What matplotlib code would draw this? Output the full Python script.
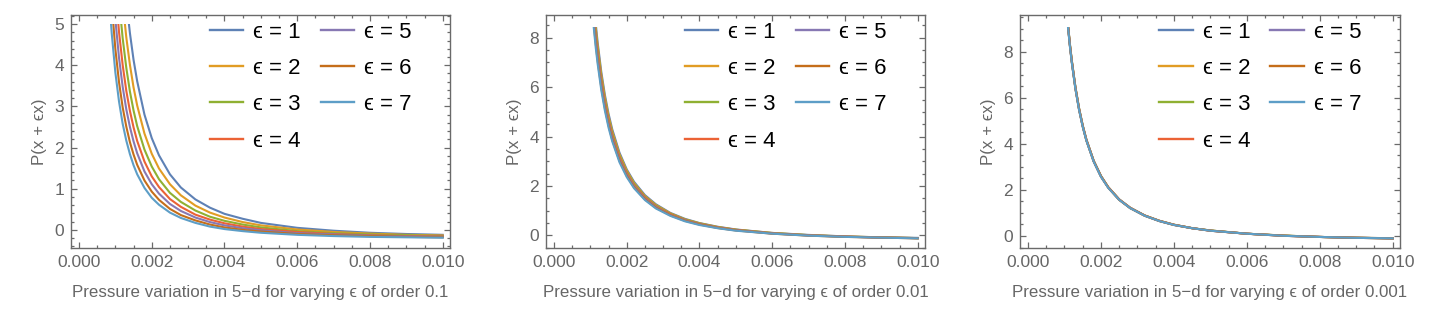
"""Pressure variation in 5-d for varying epsilon, three orders of magnitude."""

import matplotlib
matplotlib.use("Agg")
import matplotlib.pyplot as plt
from matplotlib.lines import Line2D
from matplotlib.patches import Rectangle
from matplotlib.ticker import FormatStrFormatter, MultipleLocator

plt.rcParams["font.family"] = ["Liberation Sans", "DejaVu Sans"]

# ---- data ------------------------------------------------------------------
EPS_LABELS = ["ϵ = 1", "ϵ = 2", "ϵ = 3", "ϵ = 4", "ϵ = 5", "ϵ = 6", "ϵ = 7"]
COLORS = ["#5E81B5", "#E19C24", "#8FB032", "#EB6235",
          "#8778B3", "#C56E1A", "#5D9EC7"]

# order 0.1
X1 = [0.00085, 0.0009, 0.001, 0.0011, 0.0012, 0.0013, 0.0014, 0.0015, 0.0016,
      0.0018, 0.002, 0.0022, 0.0025, 0.0028, 0.0032, 0.0036, 0.004, 0.0045,
      0.005, 0.006, 0.007, 0.008, 0.009, 0.010]
P1 = [
    [13.34, 11.87, 9.58, 7.88, 6.58, 5.58, 4.78, 4.13, 3.61, 2.80, 2.23, 1.81,
     1.35, 1.03, 0.74, 0.54, 0.39, 0.27, 0.17, 0.05, -0.02, -0.07, -0.10, -0.12],
    [11.25, 10.01, 8.07, 6.63, 5.54, 4.68, 4.01, 3.46, 3.02, 2.34, 1.85, 1.49,
     1.11, 0.84, 0.59, 0.42, 0.30, 0.19, 0.11, 0.01, -0.05, -0.09, -0.12, -0.135],
    [9.50, 8.45, 6.80, 5.59, 4.66, 3.94, 3.36, 2.90, 2.52, 1.95, 1.54, 1.23,
     0.90, 0.68, 0.47, 0.32, 0.22, 0.13, 0.06, -0.03, -0.08, -0.11, -0.13, -0.15],
    [8.21, 7.30, 5.87, 4.81, 4.01, 3.38, 2.89, 2.49, 2.16, 1.66, 1.30, 1.04,
     0.75, 0.56, 0.37, 0.25, 0.16, 0.08, 0.02, -0.05, -0.10, -0.13, -0.15, -0.16],
    [7.15, 6.36, 5.11, 4.18, 3.48, 2.93, 2.50, 2.15, 1.86, 1.42, 1.11, 0.88,
     0.63, 0.46, 0.30, 0.19, 0.11, 0.04, -0.01, -0.08, -0.11, -0.14, -0.16, -0.17],
    [6.17, 5.48, 4.39, 3.59, 2.98, 2.51, 2.13, 1.83, 1.58, 1.20, 0.93, 0.73,
     0.51, 0.36, 0.23, 0.13, 0.06, 0.00, -0.04, -0.10, -0.13, -0.15, -0.17, -0.18],
    [5.38, 4.77, 3.82, 3.12, 2.58, 2.17, 1.84, 1.57, 1.35, 1.02, 0.78, 0.61,
     0.42, 0.29, 0.17, 0.08, 0.02, -0.03, -0.07, -0.12, -0.15, -0.17, -0.18, -0.19],
]

# order 0.01 and 0.001 share one x grid
X23 = [0.00105, 0.0011, 0.00115, 0.0012, 0.0013, 0.0014, 0.0015, 0.0016,
       0.0018, 0.002, 0.0022, 0.0025, 0.0028, 0.0032, 0.0036, 0.004, 0.0045,
       0.005, 0.006, 0.007, 0.008, 0.009, 0.010]
P2 = [
    [10.27, 9.34, 8.53, 7.81, 6.62, 5.68, 4.92, 4.30, 3.35, 2.67, 2.17, 1.63,
     1.26, 0.91, 0.67, 0.50, 0.35, 0.24, 0.10, 0.02, -0.04, -0.08, -0.10],
    [10.07, 9.15, 8.36, 7.66, 6.49, 5.57, 4.82, 4.21, 3.28, 2.62, 2.12, 1.59,
     1.23, 0.89, 0.65, 0.49, 0.34, 0.23, 0.10, 0.01, -0.04, -0.08, -0.11],
    [9.87, 8.97, 8.19, 7.50, 6.36, 5.45, 4.72, 4.12, 3.21, 2.56, 2.08, 1.56,
     1.20, 0.87, 0.64, 0.48, 0.33, 0.23, 0.09, 0.01, -0.05, -0.08, -0.11],
    [9.68, 8.80, 8.03, 7.36, 6.24, 5.35, 4.63, 4.04, 3.15, 2.51, 2.03, 1.53,
     1.17, 0.85, 0.62, 0.46, 0.32, 0.22, 0.08, 0.00, -0.05, -0.09, -0.11],
    [9.49, 8.63, 7.87, 7.21, 6.11, 5.24, 4.54, 3.96, 3.08, 2.46, 1.99, 1.49,
     1.15, 0.82, 0.61, 0.45, 0.31, 0.21, 0.08, 0.00, -0.05, -0.09, -0.11],
    [9.31, 8.46, 7.72, 7.07, 5.99, 5.14, 4.45, 3.88, 3.02, 2.41, 1.95, 1.46,
     1.12, 0.81, 0.59, 0.44, 0.30, 0.20, 0.07, -0.01, -0.06, -0.09, -0.12],
    [9.13, 8.30, 7.57, 6.94, 5.88, 5.04, 4.36, 3.81, 2.96, 2.36, 1.91, 1.43,
     1.09, 0.79, 0.57, 0.42, 0.29, 0.19, 0.07, -0.01, -0.06, -0.09, -0.12],
]
P3 = [
    [10.02, 9.11, 8.31, 7.62, 6.46, 5.54, 4.80, 4.19, 3.27, 2.61, 2.12, 1.59,
     1.23, 0.89, 0.66, 0.49, 0.34, 0.24, 0.10, 0.02, -0.04, -0.07, -0.10],
    [10.00, 9.09, 8.29, 7.61, 6.45, 5.53, 4.79, 4.18, 3.26, 2.60, 2.12, 1.59,
     1.23, 0.89, 0.66, 0.49, 0.34, 0.24, 0.10, 0.02, -0.04, -0.07, -0.10],
    [9.98, 9.07, 8.28, 7.59, 6.43, 5.52, 4.78, 4.17, 3.26, 2.60, 2.11, 1.58,
     1.22, 0.89, 0.66, 0.49, 0.34, 0.24, 0.10, 0.02, -0.04, -0.08, -0.10],
    [9.96, 9.06, 8.26, 7.58, 6.42, 5.51, 4.77, 4.17, 3.25, 2.59, 2.11, 1.58,
     1.22, 0.89, 0.66, 0.49, 0.34, 0.23, 0.10, 0.01, -0.04, -0.08, -0.10],
    [9.93, 9.04, 8.24, 7.56, 6.41, 5.49, 4.76, 4.16, 3.24, 2.58, 2.10, 1.58,
     1.22, 0.88, 0.65, 0.48, 0.34, 0.23, 0.10, 0.01, -0.04, -0.08, -0.10],
    [9.91, 9.02, 8.23, 7.55, 6.39, 5.48, 4.75, 4.15, 3.24, 2.58, 2.10, 1.57,
     1.21, 0.88, 0.65, 0.48, 0.34, 0.23, 0.10, 0.01, -0.04, -0.08, -0.10],
    [9.89, 9.00, 8.21, 7.53, 6.38, 5.47, 4.74, 4.14, 3.23, 2.57, 2.09, 1.57,
     1.21, 0.88, 0.65, 0.48, 0.34, 0.23, 0.10, 0.01, -0.04, -0.08, -0.10],
]

ORDERS = ["0.1", "0.01", "0.001"]

# ---- styling ---------------------------------------------------------------
GRAY = "#666666"
FRAME = "#6a6a6a"

panels = [
    dict(x=X1, ys=P1, clip=5.0, ylim=(-0.44, 5.22), ymaj=1, ymin=0.2,
         left=71, right=450),
    dict(x=X23, ys=P2, clip=8.45, ylim=(-0.51, 8.92), ymaj=2, ymin=0.5,
         left=546, right=925),
    dict(x=X23, ys=P3, clip=9.05, ylim=(-0.52, 9.59), ymaj=2, ymin=0.5,
         left=1020, right=1400),
]

W, H = 1440, 316
fig = plt.figure(figsize=(W / 100, H / 100), dpi=100)

for p, order in zip(panels, ORDERS):
    ax = fig.add_axes([p["left"] / W, 1 - 248 / H,
                       (p["right"] - p["left"]) / W, 233 / H])
    clip_rect = Rectangle((-1, -50), 2, 50 + p["clip"], transform=ax.transData)
    for ys, c in zip(p["ys"], COLORS):
        line, = ax.plot(p["x"], ys, color=c, lw=1.5, solid_joinstyle="round")
        line.set_clip_path(clip_rect)

    ax.set_xlim(-0.00022, 0.0102)
    ax.set_ylim(*p["ylim"])
    ax.xaxis.set_major_locator(MultipleLocator(0.002))
    ax.xaxis.set_minor_locator(MultipleLocator(0.0005))
    ax.xaxis.set_major_formatter(FormatStrFormatter("%.3f"))
    ax.yaxis.set_major_locator(MultipleLocator(p["ymaj"]))
    ax.yaxis.set_minor_locator(MultipleLocator(p["ymin"]))
    ax.tick_params(which="both", direction="in", top=True, right=True,
                   color=FRAME, labelcolor=GRAY, labelsize=12.5, width=0.9)
    ax.tick_params(which="major", length=4.5, pad=5)
    ax.tick_params(which="minor", length=2.5)
    for s in ax.spines.values():
        s.set_color(FRAME)
        s.set_linewidth(1.0)

    ax.set_xlabel(f"Pressure variation in 5\u2212d for varying ϵ of order {order}",
                  color=GRAY, fontsize=12.2, labelpad=11)
    ax.set_ylabel("P(x + ϵx)", color=GRAY, fontsize=12.2, labelpad=5)

    handles = [Line2D([], [], color=c, lw=1.7) for c in COLORS]
    ax.legend(handles, EPS_LABELS, ncol=2, loc="upper left",
              bbox_to_anchor=(0.367, 0.972), frameon=False, fontsize=16,
              handlelength=1.5, handletextpad=0.45, labelspacing=0.69,
              columnspacing=0.9, borderpad=0, borderaxespad=0)

fig.savefig("out.png", dpi=100)
